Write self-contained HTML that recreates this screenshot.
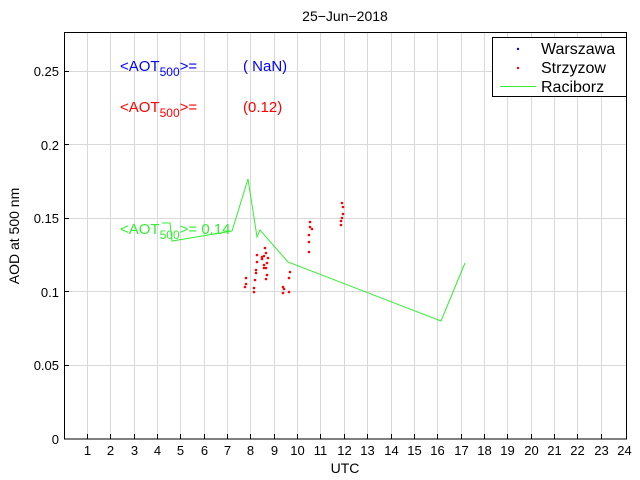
<!DOCTYPE html>
<html><head><style>body{margin:0;background:#fff}svg{display:block;font-family:"Liberation Sans",sans-serif}</style></head>
<body>
<svg width="640" height="480" viewBox="0 0 640 480" xmlns="http://www.w3.org/2000/svg">
<rect width="640" height="480" fill="#fff"/>
<g stroke="#d9d9d9" stroke-width="1">
<line x1="87.5" y1="32" x2="87.5" y2="439"/><line x1="110.5" y1="32" x2="110.5" y2="439"/><line x1="134.5" y1="32" x2="134.5" y2="439"/><line x1="157.5" y1="32" x2="157.5" y2="439"/><line x1="180.5" y1="32" x2="180.5" y2="439"/><line x1="204.5" y1="32" x2="204.5" y2="439"/><line x1="227.5" y1="32" x2="227.5" y2="439"/><line x1="250.5" y1="32" x2="250.5" y2="439"/><line x1="274.5" y1="32" x2="274.5" y2="439"/><line x1="297.5" y1="32" x2="297.5" y2="439"/><line x1="320.5" y1="32" x2="320.5" y2="439"/><line x1="344.5" y1="32" x2="344.5" y2="439"/><line x1="367.5" y1="32" x2="367.5" y2="439"/><line x1="391.5" y1="32" x2="391.5" y2="439"/><line x1="414.5" y1="32" x2="414.5" y2="439"/><line x1="437.5" y1="32" x2="437.5" y2="439"/><line x1="461.5" y1="32" x2="461.5" y2="439"/><line x1="484.5" y1="32" x2="484.5" y2="439"/><line x1="507.5" y1="32" x2="507.5" y2="439"/><line x1="531.5" y1="32" x2="531.5" y2="439"/><line x1="554.5" y1="32" x2="554.5" y2="439"/><line x1="577.5" y1="32" x2="577.5" y2="439"/><line x1="601.5" y1="32" x2="601.5" y2="439"/>
<line x1="64" y1="365.5" x2="627" y2="365.5"/><line x1="64" y1="291.5" x2="627" y2="291.5"/><line x1="64" y1="218.5" x2="627" y2="218.5"/><line x1="64" y1="144.5" x2="627" y2="144.5"/><line x1="64" y1="71.5" x2="627" y2="71.5"/>
</g>
<rect x="64.5" y="32.5" width="562" height="406.5" fill="none" stroke="#000"/>
<g stroke="#000">
<line x1="87.5" y1="439" x2="87.5" y2="434"/><line x1="110.5" y1="439" x2="110.5" y2="434"/><line x1="134.5" y1="439" x2="134.5" y2="434"/><line x1="157.5" y1="439" x2="157.5" y2="434"/><line x1="180.5" y1="439" x2="180.5" y2="434"/><line x1="204.5" y1="439" x2="204.5" y2="434"/><line x1="227.5" y1="439" x2="227.5" y2="434"/><line x1="250.5" y1="439" x2="250.5" y2="434"/><line x1="274.5" y1="439" x2="274.5" y2="434"/><line x1="297.5" y1="439" x2="297.5" y2="434"/><line x1="320.5" y1="439" x2="320.5" y2="434"/><line x1="344.5" y1="439" x2="344.5" y2="434"/><line x1="367.5" y1="439" x2="367.5" y2="434"/><line x1="391.5" y1="439" x2="391.5" y2="434"/><line x1="414.5" y1="439" x2="414.5" y2="434"/><line x1="437.5" y1="439" x2="437.5" y2="434"/><line x1="461.5" y1="439" x2="461.5" y2="434"/><line x1="484.5" y1="439" x2="484.5" y2="434"/><line x1="507.5" y1="439" x2="507.5" y2="434"/><line x1="531.5" y1="439" x2="531.5" y2="434"/><line x1="554.5" y1="439" x2="554.5" y2="434"/><line x1="577.5" y1="439" x2="577.5" y2="434"/><line x1="601.5" y1="439" x2="601.5" y2="434"/>
<line x1="64" y1="365.5" x2="69" y2="365.5"/><line x1="64" y1="291.5" x2="69" y2="291.5"/><line x1="64" y1="218.5" x2="69" y2="218.5"/><line x1="64" y1="144.5" x2="69" y2="144.5"/><line x1="64" y1="71.5" x2="69" y2="71.5"/>
</g>
<g font-size="13" text-anchor="middle" fill="#000">
<text x="87.5" y="455">1</text><text x="110.5" y="455">2</text><text x="134.5" y="455">3</text><text x="157.5" y="455">4</text><text x="180.5" y="455">5</text><text x="204.5" y="455">6</text><text x="227.5" y="455">7</text><text x="250.5" y="455">8</text><text x="274.5" y="455">9</text><text x="297.5" y="455">10</text><text x="320.5" y="455">11</text><text x="344.5" y="455">12</text><text x="367.5" y="455">13</text><text x="391.5" y="455">14</text><text x="414.5" y="455">15</text><text x="437.5" y="455">16</text><text x="461.5" y="455">17</text><text x="484.5" y="455">18</text><text x="507.5" y="455">19</text><text x="531.5" y="455">20</text><text x="554.5" y="455">21</text><text x="577.5" y="455">22</text><text x="601.5" y="455">23</text><text x="624.5" y="455">24</text>
<text x="345" y="473" font-size="14">UTC</text>
<text x="345" y="21" font-size="14">25−Jun−2018</text>
</g>
<g font-size="13" text-anchor="end" fill="#000">
<text x="59" y="444">0</text><text x="59" y="370">0.05</text><text x="59" y="297">0.1</text><text x="59" y="223">0.15</text><text x="59" y="150">0.2</text><text x="59" y="76">0.25</text>
</g>
<text transform="translate(19,236) rotate(-90)" font-size="14" text-anchor="middle">AOD at 500 nm</text>
<polyline fill="none" stroke="#33ee33" stroke-width="1" points="162,223 170,223 172,241 232,231 248,179 257,237 260,230 288,262 441,321 465,263"/>
<g fill="#ff0000">
<circle cx="246" cy="278" r="1.3"/><circle cx="246" cy="284" r="1.3"/><circle cx="245" cy="287" r="1.3"/><circle cx="254" cy="288" r="1.3"/><circle cx="254" cy="292" r="1.3"/><circle cx="255" cy="280" r="1.3"/><circle cx="256" cy="273" r="1.3"/><circle cx="256" cy="270" r="1.3"/><circle cx="257" cy="262" r="1.3"/><circle cx="257" cy="255" r="1.3"/><circle cx="262" cy="257" r="1.3"/><circle cx="262" cy="259" r="1.3"/><circle cx="265" cy="248" r="1.3"/><circle cx="266" cy="253" r="1.3"/><circle cx="264" cy="256" r="1.3"/><circle cx="268" cy="258" r="1.3"/><circle cx="267" cy="263" r="1.3"/><circle cx="264" cy="265" r="1.3"/><circle cx="266" cy="268" r="1.3"/><circle cx="264" cy="268" r="1.3"/><circle cx="267" cy="275" r="1.3"/><circle cx="266" cy="279" r="1.3"/><circle cx="283" cy="287" r="1.3"/><circle cx="284" cy="289" r="1.3"/><circle cx="283" cy="293" r="1.3"/><circle cx="289" cy="292" r="1.3"/><circle cx="289" cy="278" r="1.3"/><circle cx="290" cy="272" r="1.3"/><circle cx="310" cy="222" r="1.3"/><circle cx="310" cy="227" r="1.3"/><circle cx="312" cy="229" r="1.3"/><circle cx="309" cy="235" r="1.3"/><circle cx="309" cy="242" r="1.3"/><circle cx="309" cy="252" r="1.3"/><circle cx="342" cy="203" r="1.3"/><circle cx="343" cy="207" r="1.3"/><circle cx="343" cy="214" r="1.3"/><circle cx="342" cy="218" r="1.3"/><circle cx="341" cy="221" r="1.3"/><circle cx="341" cy="225" r="1.3"/>
</g>
<g font-size="15">
<text x="120" y="71" fill="#0000ff">&lt;AOT<tspan font-size="12" dy="5">500</tspan><tspan dy="-5">&gt;=</tspan></text>
<text x="243" y="71" fill="#0000ff">( NaN)</text>
<text x="120" y="112" fill="#ff0000">&lt;AOT<tspan font-size="12" dy="5">500</tspan><tspan dy="-5">&gt;=</tspan></text>
<text x="243" y="112" fill="#ff0000">(0.12)</text>
<text x="120" y="234" fill="#33ee33">&lt;AOT<tspan font-size="12" dy="5">500</tspan><tspan dy="-5">&gt;= 0.14</tspan></text>
</g>
<rect x="492.5" y="37.5" width="134" height="59" fill="#fff" stroke="#000"/>
<circle cx="518" cy="49" r="1.2" fill="#0000ff"/>
<circle cx="518" cy="68" r="1.2" fill="#ff0000"/>
<line x1="500" y1="86.5" x2="536" y2="86.5" stroke="#33ee33"/>
<g font-size="16" fill="#000">
<text x="541" y="54">Warszawa</text><text x="541" y="73">Strzyzow</text><text x="541" y="92">Raciborz</text>
</g>
</svg>
</body></html>
